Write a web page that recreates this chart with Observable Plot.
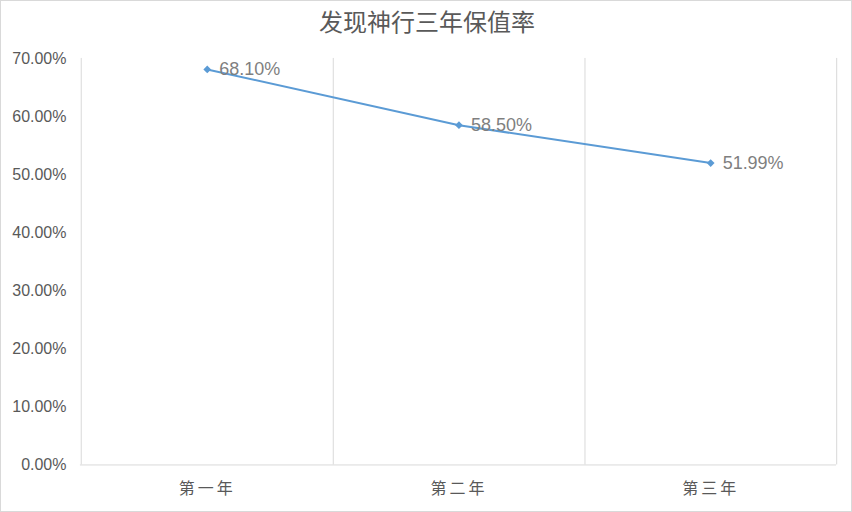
<!DOCTYPE html>
<html>
<head>
<meta charset="utf-8">
<script src="https://cdn.jsdelivr.net/npm/d3@7"></script>
<script src="https://cdn.jsdelivr.net/npm/@observablehq/plot@0.6"></script>
<style>
  html, body { margin: 0; padding: 0; background: #fff; }
  #wrap { position: relative; width: 852px; height: 512px; box-sizing: border-box; border: 1px solid #d9d9d9; overflow: hidden; }
  #title { position: absolute; left: 0; top: 2px; width: 852px; text-align: center; font-family: "Noto Sans CJK SC", sans-serif; font-size: 24px; color: #595959; }
  #chart { position: absolute; left: -1px; top: -1px; }
  g[aria-label="x-axis tick label"] text { letter-spacing: 3px; }
</style>
</head>
<body>
<div id="wrap">
  <div id="title">发现神行三年保值率</div>
  <div id="chart"></div>
</div>
<script>
const years = ["第一年", "第二年", "第三年"];
const rates = [0.681, 0.585, 0.5199];
const yTicks = [0, 0.1, 0.2, 0.3, 0.4, 0.5, 0.6, 0.7];

const data = years.map((y, i) => ({year: y, rate: rates[i]}));

const W = 852, H = 512;
const mL = 80, mR = 15, mT = 58, mB = 47;
const step = (W - mL - mR) / years.length;

const chart = Plot.plot({
  width: W,
  height: H,
  marginLeft: mL,
  marginRight: mR,
  marginTop: mT,
  marginBottom: mB,
  style: {background: "transparent", fontFamily: "Liberation Sans, 'Noto Sans CJK SC', sans-serif"},
  x: {type: "point", domain: years, padding: 0.5, label: null},
  y: {domain: [0, 0.7], label: null},
  marks: [
    Plot.ruleX(years, {x: d => d, dx: step / 2, stroke: "#d9d9d9", strokeWidth: 1}),
    Plot.ruleX([years[0]], {x: d => d, dx: -step / 2, stroke: "#d9d9d9", strokeWidth: 1}),
    Plot.ruleY([0], {stroke: "#d9d9d9", strokeWidth: 1}),
    Plot.axisY({ticks: yTicks, tickFormat: d3.format(".2%"), tickSize: 0, tickPadding: 14, fontSize: 16, color: "#595959", label: null}),
    Plot.axisX({tickSize: 0, tickPadding: 18, fontSize: 16, color: "#595959", fontFamily: "'Noto Sans CJK SC', sans-serif", label: null}),
    Plot.line(data, {x: "year", y: "rate", stroke: "#5b9bd5", strokeWidth: 2}),
    Plot.dot(data, {x: "year", y: "rate", symbol: "diamond2", fill: "#5b9bd5", r: 3.5}),
    Plot.text(data, {x: "year", y: "rate", text: d => d3.format(".2%")(d.rate), textAnchor: "start", dx: 12, fontSize: 18, fill: "#7f7f7f"})
  ]
});
document.getElementById("chart").appendChild(chart);
</script>
</body>
</html>
